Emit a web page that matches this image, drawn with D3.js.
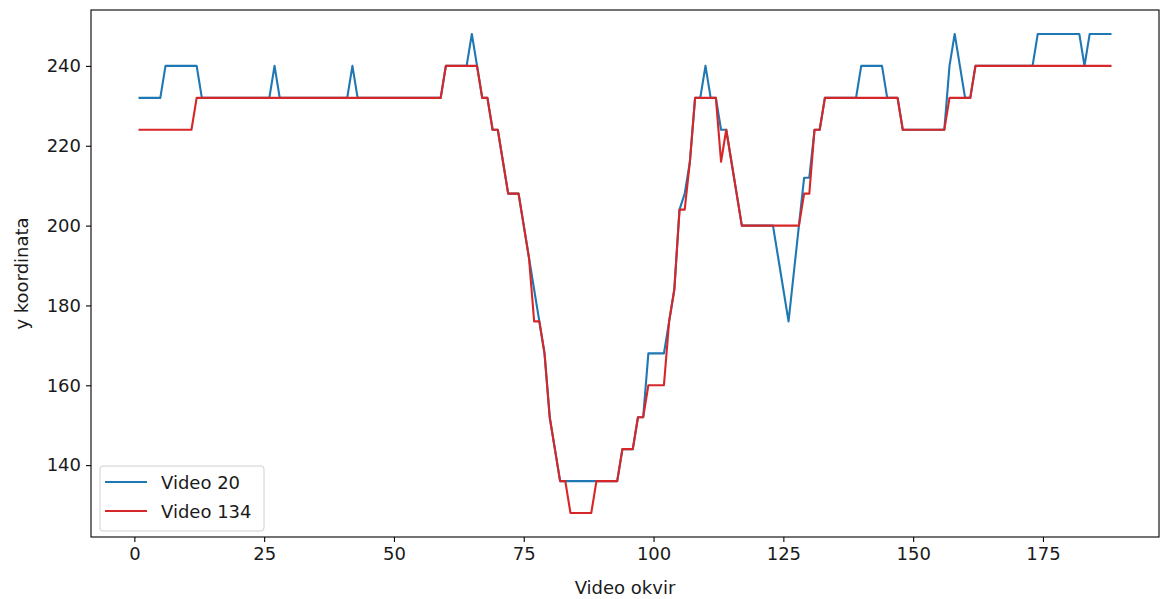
<!DOCTYPE html>
<html>
<head>
<meta charset="utf-8">
<script src="https://cdn.jsdelivr.net/npm/d3@7"></script>
<style>
  html, body { margin: 0; padding: 0; background: #fff; }
  svg { display: block; font-family: "DejaVu Sans", sans-serif; }
</style>
</head>
<body>
<svg id="chart" width="1161" height="599"></svg>
<script>
// ---- data ----
const frames = d3.range(1, 189);
const seriesNames = ["Video 20", "Video 134"];
const video20 = [
  232,232,232,232,232,240,240,240,240,240,
  240,240,232,232,232,232,232,232,232,232,
  232,232,232,232,232,232,240,232,232,232,
  232,232,232,232,232,232,232,232,232,232,
  232,240,232,232,232,232,232,232,232,232,
  232,232,232,232,232,232,232,232,232,240,
  240,240,240,240,248,240,232,232,224,224,
  216,208,208,208,200,192,184,176,168,152,
  144,136,136,136,136,136,136,136,136,136,
  136,136,136,144,144,144,152,152,168,168,
  168,168,176,184,204,208,216,232,232,240,
  232,232,224,224,216,208,200,200,200,200,
  200,200,200,192,184,176,188,200,212,212,
  224,224,232,232,232,232,232,232,232,240,
  240,240,240,240,232,232,232,224,224,224,
  224,224,224,224,224,224,240,248,240,232,
  232,240,240,240,240,240,240,240,240,240,
  240,240,240,248,248,248,248,248,248,248,
  248,248,240,248,248,248,248,248
];
const video134 = [
  224,224,224,224,224,224,224,224,224,224,
  224,232,232,232,232,232,232,232,232,232,
  232,232,232,232,232,232,232,232,232,232,
  232,232,232,232,232,232,232,232,232,232,
  232,232,232,232,232,232,232,232,232,232,
  232,232,232,232,232,232,232,232,232,240,
  240,240,240,240,240,240,232,232,224,224,
  216,208,208,208,200,192,176,176,168,152,
  144,136,136,128,128,128,128,128,136,136,
  136,136,136,144,144,144,152,152,160,160,
  160,160,176,184,204,204,216,232,232,232,
  232,232,216,224,216,208,200,200,200,200,
  200,200,200,200,200,200,200,200,208,208,
  224,224,232,232,232,232,232,232,232,232,
  232,232,232,232,232,232,232,224,224,224,
  224,224,224,224,224,224,232,232,232,232,
  232,240,240,240,240,240,240,240,240,240,
  240,240,240,240,240,240,240,240,240,240,
  240,240,240,240,240,240,240,240
];
const xTicks = [0, 25, 50, 75, 100, 125, 150, 175];
const yTicks = [140, 160, 180, 200, 220, 240];
const xLabel = "Video okvir";
const yLabel = "y koordinata";
const colors = ["#1f77b4", "#d62728"];

// ---- layout ----
const svg = d3.select("#chart");
const L = 91, R = 1159, T = 10, B = 537;
const FS = "18px";
const TXT = "#1a1a1a";

const allY = video20.concat(video134);
const xMin = d3.min(frames), xMax = d3.max(frames);
const yMin = d3.min(allY), yMax = d3.max(allY);
const xPad = (xMax - xMin) * 0.05, yPad = (yMax - yMin) * 0.05;

const x = d3.scaleLinear().domain([xMin - xPad, xMax + xPad]).range([L, R]);
const y = d3.scaleLinear().domain([yMin - yPad, yMax + yPad]).range([B, T]);

// lines
const series = [video20, video134];
const line = d3.line().x(d => x(d[0])).y(d => y(d[1]));
series.forEach((vals, i) => {
  svg.append("path")
    .datum(frames.map((f, j) => [f, vals[j]]))
    .attr("fill", "none")
    .attr("stroke", colors[i])
    .attr("stroke-width", 2.1)
    .attr("stroke-linejoin", "round")
    .attr("stroke-linecap", "square")
    .attr("d", line);
});

// axes
const xAxis = svg.append("g").attr("transform", `translate(0,${B})`)
  .call(d3.axisBottom(x).tickValues(xTicks).tickSize(5).tickPadding(5).tickFormat(d3.format("d")));
const yAxis = svg.append("g").attr("transform", `translate(${L},0)`)
  .call(d3.axisLeft(y).tickValues(yTicks).tickSize(5).tickPadding(5).tickFormat(d3.format("d")));
[xAxis, yAxis].forEach(g => {
  g.select(".domain").remove();
  g.selectAll(".tick line").attr("stroke", "#000").attr("stroke-width", 1.1);
  g.selectAll(".tick text").attr("fill", TXT).style("font-size", FS)
    .style("font-family", "'DejaVu Sans', sans-serif");
});

// frame
svg.append("rect")
  .attr("x", L).attr("y", T).attr("width", R - L).attr("height", B - T)
  .attr("fill", "none").attr("stroke", "#000").attr("stroke-width", 1.1);

// axis labels
svg.append("text")
  .attr("x", (L + R) / 2).attr("y", 594)
  .attr("text-anchor", "middle").attr("fill", TXT)
  .style("font-size", FS).text(xLabel);
svg.append("text")
  .attr("transform", `translate(28,${(T + B) / 2}) rotate(-90)`)
  .attr("text-anchor", "middle").attr("fill", TXT)
  .style("font-size", FS).text(yLabel);

// legend
const lg = svg.append("g");
lg.append("rect")
  .attr("x", 100).attr("y", 466).attr("width", 164).attr("height", 65)
  .attr("rx", 3).attr("ry", 3)
  .attr("fill", "#fff").attr("fill-opacity", 0.8)
  .attr("stroke", "#d0d0d0").attr("stroke-width", 1);
seriesNames.forEach((name, i) => {
  const yy = 482 + i * 29;
  lg.append("line")
    .attr("x1", 105).attr("x2", 147).attr("y1", yy).attr("y2", yy)
    .attr("stroke", colors[i]).attr("stroke-width", 2.1);
  lg.append("text")
    .attr("x", 161).attr("y", yy + 6.5)
    .attr("fill", TXT).style("font-size", FS).text(name);
});
</script>
</body>
</html>
